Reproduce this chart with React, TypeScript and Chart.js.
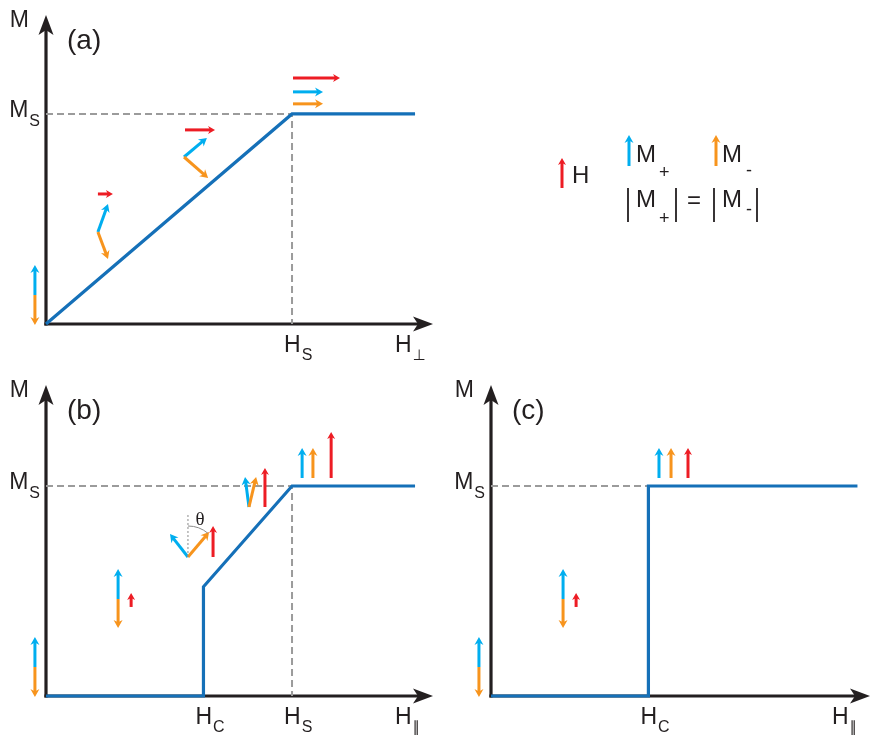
import React, { useEffect, useRef } from "react";
import { Chart, registerables } from "chart.js";

Chart.register(...registerables);

// Field in units of H_S, magnetization in units of M_S
const H_C = 0.64;
const M_JUMP = 0.52;
const H_END = 1.5;
const H_END_C = 1.49;

// Magnetization curves
const curveA = [
  { x: 0, y: 0 },
  { x: 1, y: 1 },
  { x: H_END, y: 1 },
];
const curveB = [
  { x: 0, y: 0 },
  { x: H_C, y: 0 },
  { x: H_C, y: M_JUMP },
  { x: 1, y: 1 },
  { x: H_END, y: 1 },
];
const curveC = [
  { x: 0, y: 0 },
  { x: H_C, y: 0 },
  { x: H_C, y: 1 },
  { x: H_END_C, y: 1 },
];

// Dashed guides to M_S / H_S
const guideA = [
  { x: 0, y: 1 },
  { x: 1, y: 1 },
  { x: 1, y: 0 },
];
const guideB = [
  { x: 0, y: 1 },
  { x: 1, y: 1 },
  { x: 1, y: 0 },
];
const guideC = [
  { x: 0, y: 1 },
  { x: H_C, y: 1 },
];

// Sublattice moments and applied field as [h0, m0, h1, m1]
const plusA = [
  [-0.045, 0.138, -0.045, 0.281],
  [0.211, 0.438, 0.252, 0.571],
  [0.561, 0.795, 0.654, 0.886],
  [1.004, 1.105, 1.126, 1.105],
];
const minusA = [
  [-0.045, 0.138, -0.045, -0.005],
  [0.211, 0.438, 0.252, 0.31],
  [0.561, 0.795, 0.659, 0.695],
  [1.004, 1.048, 1.126, 1.048],
];
const fieldA = [
  [0.211, 0.619, 0.272, 0.619],
  [0.565, 0.924, 0.687, 0.924],
  [1.004, 1.171, 1.195, 1.171],
];

const plusB = [
  [-0.045, 0.138, -0.045, 0.281],
  [0.293, 0.462, 0.293, 0.605],
  [0.577, 0.662, 0.504, 0.771],
  [0.825, 0.9, 0.809, 1.043],
  [1.041, 1.038, 1.041, 1.181],
];
const minusB = [
  [-0.045, 0.138, -0.045, -0.005],
  [0.293, 0.462, 0.293, 0.324],
  [0.577, 0.662, 0.663, 0.781],
  [0.825, 0.9, 0.854, 1.043],
  [1.085, 1.038, 1.085, 1.181],
];
const fieldB = [
  [0.346, 0.424, 0.346, 0.49],
  [0.679, 0.662, 0.679, 0.81],
  [0.89, 0.9, 0.89, 1.086],
  [1.159, 1.038, 1.159, 1.257],
];

const plusC = [
  [-0.049, 0.138, -0.049, 0.281],
  [0.293, 0.462, 0.293, 0.605],
  [0.683, 1.038, 0.683, 1.181],
];
const minusC = [
  [-0.049, 0.138, -0.049, -0.005],
  [0.293, 0.462, 0.293, 0.324],
  [0.732, 1.038, 0.732, 1.181],
];
const fieldC = [
  [0.346, 0.424, 0.346, 0.49],
  [0.801, 1.038, 0.801, 1.181],
];

// Canting angle marker in the spin-flop phase: base, reference line top, label
const thetaBase = [0.577, 0.662];
const thetaRefTop = [0.577, 0.871];
const thetaLabelAt = [0.626, 0.838];
const thetaText = "θ";

// Tick labels on the field axis: [value, subscript]
const fieldTicksA: [number, string][] = [[1, "S"]];
const fieldTicksB: [number, string][] = [[H_C, "C"], [1, "S"]];
const fieldTicksC: [number, string][] = [[H_C, "C"]];
const fieldAxisSub = ["⊥", "∥", "∥"];
const panelTags = ["(a)", "(b)", "(c)"];

const FONT = '"Liberation Sans", Arial, Helvetica, sans-serif';
const INK = "#231f20";
const BLUE = "#1570b8";
const CYAN = "#00aeef";
const ORANGE = "#f7941d";
const RED = "#ed1c24";
const GUIDE = "#9b9b9b";

function drawArrow(
  ctx: CanvasRenderingContext2D,
  x0: number,
  y0: number,
  x1: number,
  y1: number,
  color: string,
  lw: number,
  hl: number,
  hw: number
) {
  const dx = x1 - x0;
  const dy = y1 - y0;
  const len = Math.hypot(dx, dy) || 1;
  const ux = dx / len;
  const uy = dy / len;
  const px = -uy;
  const py = ux;
  const bx = x1 - ux * hl;
  const by = y1 - uy * hl;
  ctx.save();
  ctx.strokeStyle = color;
  ctx.fillStyle = color;
  ctx.lineWidth = lw;
  ctx.lineCap = "butt";
  ctx.beginPath();
  ctx.moveTo(x0, y0);
  ctx.lineTo(x1 - ux * hl * 0.6, y1 - uy * hl * 0.6);
  ctx.stroke();
  ctx.beginPath();
  ctx.moveTo(x1, y1);
  ctx.lineTo(bx + px * hw, by + py * hw);
  ctx.lineTo(x1 - ux * hl * 0.7, y1 - uy * hl * 0.7);
  ctx.lineTo(bx - px * hw, by - py * hw);
  ctx.closePath();
  ctx.fill();
  ctx.restore();
}

function textWithSub(
  ctx: CanvasRenderingContext2D,
  main: string,
  sub: string,
  x: number,
  y: number,
  mainPx: number,
  subPx: number,
  dy: number,
  align: "left" | "right",
  subFont = FONT
) {
  ctx.font = `${mainPx}px ${FONT}`;
  const wm = ctx.measureText(main).width;
  ctx.font = `${subPx}px ${subFont}`;
  const ws = ctx.measureText(sub).width;
  const left = align === "left" ? x : x - wm - ws - 1;
  ctx.textAlign = "left";
  ctx.textBaseline = "alphabetic";
  ctx.fillStyle = INK;
  ctx.font = `${mainPx}px ${FONT}`;
  ctx.fillText(main, left, y);
  ctx.font = `${subPx}px ${subFont}`;
  ctx.fillText(sub, left + wm + 1, y + dy);
}

type PanelCfg = {
  index: number;
  curve: { x: number; y: number }[];
  guide: { x: number; y: number }[];
  plus: number[][];
  minus: number[][];
  field: number[][];
  ticks: [number, string][];
  xMax: number;
  yMax: number;
  width: number;
  height: number;
  left: number;
  top: number;
  padding: { left: number; right: number; top: number; bottom: number };
  theta?: boolean;
  legend?: boolean;
};

function drawLegend(ctx: CanvasRenderingContext2D) {
  // Key for the arrow colours, set to the right of panel (a)
  drawArrow(ctx, 562, 188, 562, 158, RED, 3, 7, 4);
  drawArrow(ctx, 629, 166, 629, 135, CYAN, 3, 8, 4.5);
  drawArrow(ctx, 716, 166, 716, 135, ORANGE, 3, 8, 4.5);
  ctx.fillStyle = INK;
  ctx.textAlign = "left";
  ctx.textBaseline = "alphabetic";
  ctx.font = `24px ${FONT}`;
  ctx.fillText("H", 572, 183);
  ctx.fillText("M", 636, 162);
  ctx.fillText("M", 722, 162);
  ctx.font = `18px ${FONT}`;
  ctx.fillText("+", 659, 178);
  ctx.fillText("-", 746, 176);

  ctx.font = `24px ${FONT}`;
  ctx.fillText("M", 636, 207);
  ctx.fillText("M", 722, 207);
  ctx.fillText("=", 687, 208);
  ctx.font = `18px ${FONT}`;
  ctx.fillText("+", 659, 224);
  ctx.fillText("-", 746, 215);

  ctx.strokeStyle = INK;
  ctx.lineWidth = 1.8;
  for (const bx of [628, 676, 714, 757]) {
    ctx.beginPath();
    ctx.moveTo(bx, 188);
    ctx.lineTo(bx, 222);
    ctx.stroke();
  }
}

function makePlugin(cfg: PanelCfg) {
  return {
    id: "magDiagram" + cfg.index,
    beforeDatasetsDraw(chart: any) {
      const { ctx, chartArea } = chart;
      const { left, right, top, bottom } = chartArea;
      ctx.save();
      ctx.strokeStyle = INK;
      ctx.fillStyle = INK;
      ctx.lineWidth = 3.2;
      ctx.lineCap = "butt";
      // vertical M axis
      ctx.beginPath();
      ctx.moveTo(left, bottom + 1.6);
      ctx.lineTo(left, top + 12);
      ctx.stroke();
      ctx.beginPath();
      ctx.moveTo(left, top);
      ctx.lineTo(left + 7.5, top + 20);
      ctx.lineTo(left, top + 15);
      ctx.lineTo(left - 7.5, top + 20);
      ctx.closePath();
      ctx.fill();
      // horizontal H axis
      ctx.beginPath();
      ctx.moveTo(left - 1.6, bottom);
      ctx.lineTo(right - 12, bottom);
      ctx.stroke();
      ctx.beginPath();
      ctx.moveTo(right, bottom);
      ctx.lineTo(right - 20, bottom - 7.5);
      ctx.lineTo(right - 15, bottom);
      ctx.lineTo(right - 20, bottom + 7.5);
      ctx.closePath();
      ctx.fill();
      ctx.restore();
    },
    afterDatasetsDraw(chart: any) {
      const { ctx, chartArea, scales } = chart;
      const { left, right, top, bottom } = chartArea;
      const X = (v: number) => scales.x.getPixelForValue(v);
      const Y = (v: number) => scales.y.getPixelForValue(v);
      ctx.save();

      // arrows for the two sublattices and the field
      const groups: [number[][], string, number, number, number][] = [
        [cfg.plus, CYAN, 3, 8, 4.5],
        [cfg.minus, ORANGE, 3, 8, 4.5],
        [cfg.field, RED, 3, 7, 4],
      ];
      for (const [list, color, lw, hl, hw] of groups) {
        for (const a of list) {
          drawArrow(ctx, X(a[0]), Y(a[1]), X(a[2]), Y(a[3]), color, lw, hl, hw);
        }
      }

      if (cfg.theta) {
        const bx = X(thetaBase[0]);
        const by = Y(thetaBase[1]);
        ctx.strokeStyle = "#8a8a8a";
        ctx.lineWidth = 1;
        ctx.setLineDash([2, 2]);
        ctx.beginPath();
        ctx.moveTo(bx, by);
        ctx.lineTo(X(thetaRefTop[0]), Y(thetaRefTop[1]));
        ctx.stroke();
        ctx.setLineDash([]);
        const o = cfg.minus.find((m) => m[0] === thetaBase[0] && m[1] === thetaBase[1]);
        if (o) {
          const ang = Math.atan2(Y(o[3]) - by, X(o[2]) - bx);
          ctx.beginPath();
          ctx.arc(bx, by, 31, -Math.PI / 2, ang, false);
          ctx.stroke();
        }
        ctx.fillStyle = INK;
        ctx.font = `19px "Liberation Serif", "Times New Roman", serif`;
        ctx.textAlign = "center";
        ctx.textBaseline = "middle";
        ctx.fillText(thetaText, X(thetaLabelAt[0]), Y(thetaLabelAt[1]));
      }

      // axis names, panel tag and tick labels
      ctx.fillStyle = INK;
      ctx.textBaseline = "alphabetic";
      ctx.textAlign = "right";
      ctx.font = `23px ${FONT}`;
      ctx.fillText("M", left - 17, top + 12);
      ctx.textAlign = "left";
      ctx.font = `28px ${FONT}`;
      ctx.fillText(panelTags[cfg.index], left + 21, top + 34);

      textWithSub(ctx, "M", "S", left - 6, Y(1) + 3, 23, 16, 9, "right");
      for (const [v, s] of cfg.ticks) {
        textWithSub(ctx, "H", s, X(v) - 8, bottom + 28, 23, 16, 8, "left");
      }
      textWithSub(
        ctx,
        "H",
        fieldAxisSub[cfg.index],
        right - 38,
        bottom + 28,
        23,
        15,
        8,
        "left",
        '"DejaVu Sans", sans-serif'
      );

      if (cfg.legend) drawLegend(ctx);
      ctx.restore();
    },
  };
}

function Panel({ cfg }: { cfg: PanelCfg }) {
  const ref = useRef<HTMLCanvasElement | null>(null);
  useEffect(() => {
    if (!ref.current) return;
    const chart = new Chart(ref.current, {
      type: "scatter",
      data: {
        datasets: [
          {
            data: cfg.curve,
            showLine: true,
            borderColor: BLUE,
            borderWidth: 3.2,
            pointRadius: 0,
            tension: 0,
            clip: false,
            borderJoinStyle: "miter",
            borderCapStyle: "butt",
          } as any,
          {
            data: cfg.guide,
            showLine: true,
            borderColor: GUIDE,
            borderWidth: 2,
            borderDash: [7, 4],
            pointRadius: 0,
            tension: 0,
            clip: false,
          } as any,
        ],
      },
      options: {
        animation: false,
        responsive: false,
        maintainAspectRatio: false,
        events: [],
        layout: { padding: cfg.padding },
        plugins: { legend: { display: false }, tooltip: { enabled: false } },
        scales: {
          x: { type: "linear", min: 0, max: cfg.xMax, display: false },
          y: { type: "linear", min: 0, max: cfg.yMax, display: false },
        },
      },
      plugins: [makePlugin(cfg)],
    });
    return () => chart.destroy();
  }, [cfg]);
  return (
    <canvas
      ref={ref}
      width={cfg.width}
      height={cfg.height}
      style={{
        position: "absolute",
        left: cfg.left,
        top: cfg.top,
        width: cfg.width,
        height: cfg.height,
      }}
    />
  );
}

const panelA: PanelCfg = {
  index: 0,
  curve: curveA,
  guide: guideA,
  plus: plusA,
  minus: minusA,
  field: fieldA,
  ticks: fieldTicksA,
  xMax: 1.573,
  yMax: 1.471,
  width: 871,
  height: 370,
  left: 0,
  top: 0,
  padding: { left: 46, right: 438, top: 15, bottom: 46 },
  legend: true,
};

const panelB: PanelCfg = {
  index: 1,
  curve: curveB,
  guide: guideB,
  plus: plusB,
  minus: minusB,
  field: fieldB,
  ticks: fieldTicksB,
  xMax: 1.573,
  yMax: 1.481,
  width: 440,
  height: 365,
  left: 0,
  top: 370,
  padding: { left: 46, right: 7, top: 15, bottom: 39 },
  theta: true,
};

const panelC: PanelCfg = {
  index: 2,
  curve: curveC,
  guide: guideC,
  plus: plusC,
  minus: minusC,
  field: fieldC,
  ticks: fieldTicksC,
  xMax: 1.541,
  yMax: 1.481,
  width: 431,
  height: 365,
  left: 440,
  top: 370,
  padding: { left: 51, right: 1, top: 15, bottom: 39 },
};

export default function App() {
  return (
    <div
      style={{
        position: "fixed",
        left: 0,
        top: 0,
        width: 871,
        height: 735,
        background: "#ffffff",
        overflow: "hidden",
      }}
    >
      <Panel cfg={panelA} />
      <Panel cfg={panelB} />
      <Panel cfg={panelC} />
    </div>
  );
}
